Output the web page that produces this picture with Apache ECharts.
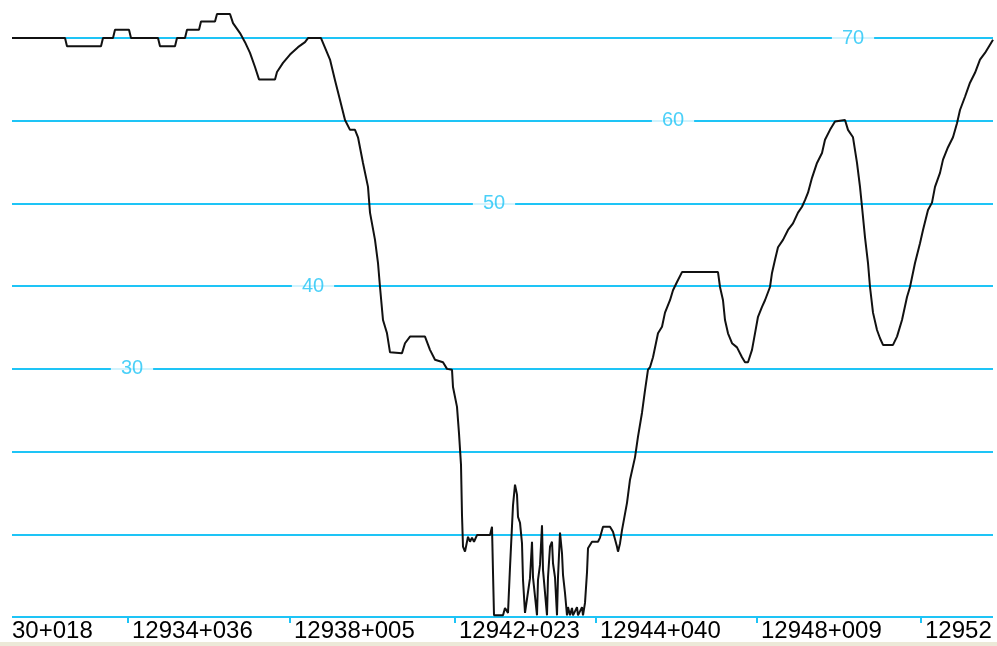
<!DOCTYPE html>
<html>
<head>
<meta charset="utf-8">
<script src="https://cdn.jsdelivr.net/npm/echarts@6/dist/echarts.min.js"></script>
<style>
html,body{margin:0;padding:0;background:#fff;}
#chart{width:997px;height:646px;}
</style>
</head>
<body>
<div id="chart"></div>
<script>
// sample positions along the route (index units) and measured values
const xs = [0,53,55,89,91,101,103,117,119,146,148,163,165,173,175,187,189,203,205,218,
  221,228,233,238,243,247,263,265,271,278,286,293,296,309,318,323,328,333,338,343,
  346,351,356,358,363,366,368,371,375,378,380,390,393,398,413,418,423,431,435,440,
  441,445,447,449,450,451,453,456,458,460,462,465,478,480,481,482,491,493,496,498,
  501,503,505,506,508,510,511,513,518,520,521,525,526,528,530,531,535,536,538,540,
  541,543,545,546,548,550,551,553,555,556,558,560,561,565,566,570,571,573,575,576,
  580,586,588,591,598,601,605,606,608,610,615,618,623,626,630,633,636,638,641,646,
  650,653,658,661,665,670,706,708,711,713,716,720,725,730,733,736,740,743,746,750,
  753,758,760,763,766,771,776,781,786,790,793,796,800,805,810,813,818,823,825,833,
  836,841,845,848,850,853,856,858,861,865,868,871,881,885,890,895,898,903,908,911,
  916,920,923,928,931,936,941,945,948,953,958,963,968,973,978,981];
const ys = [70,70,69,69,70,70,71,71,70,70,69,69,70,70,71,71,72,72,72.9,72.9,
  71.8,70.6,69.5,68.2,66.5,65,65,65.9,67,68,68.9,69.5,70,70,67.4,64.9,62.5,60.1,58.9,58.9,
  58,54.9,52,48.9,45.6,42.8,39.9,35.9,34.3,32,31.9,31.9,33.1,33.9,33.9,32.3,31.1,30.8,30,29.9,
  27.8,25.4,22.2,18.4,12.3,8.5,7.9,9.7,9.1,9.6,9.1,9.9,9.9,10.9,5.4,0.2,0.2,1.1,0.5,6,
  13.5,16,14.8,12.1,11.4,8.9,4.5,0.5,4.7,9.1,4.8,0.2,4.5,6.3,11.1,5.7,0.2,4.8,8.5,9.1,
  6.5,4.8,0.2,4.8,10.2,7.7,5.1,2.9,0.2,1.2,0.2,1.1,0.2,1.2,0.2,1.2,0.2,1.7,5.4,8.3,
  9.1,9.1,9.6,10.9,10.9,10.3,8.5,7.9,8.9,10.5,13.8,16.6,19.3,21.8,24.7,27.4,29.9,30.2,31.4,34.3,
  35.1,36.8,38.3,39.5,40.5,41.7,41.7,39.9,38.3,35.9,34.3,33.1,32.6,31.4,30.8,30.8,32.3,34.3,36.3,37.5,
  38.3,39.9,41.6,43.2,44.7,45.6,46.8,47.6,48.9,49.6,50.4,51.3,53.1,54.9,56.1,57.7,58.9,59.9,60.1,60.1,
  58.9,58,54.9,52,49.6,45.9,42.8,39.9,36.8,34.7,33.7,32.9,32.9,33.9,35.9,38.7,39.9,42.8,45.2,46.8,
  49.2,50.1,52,53.7,55.3,56.8,58,59.7,61.3,62.9,64.6,65.8,67.4,68.2,69.2,69.8];
// chainage tick labels and where they sit on the index axis
const tickPos = [116,278,443,584,745,909];
const tickLabels = ['30+018','12934+036','12938+005','12942+023','12944+040','12948+009','12952'];
const labelPos = [0,120,282,447,588,749,913];
// gridline value labels
const gridLabelValues = [30,40,50,60,70];
const gridLabelPos = [120,301,482,661,841];

const CYAN = '#1ec4f6';
const chart = echarts.init(document.getElementById('chart'), null, {renderer:'canvas'});
const lineData = xs.map((x,i)=>[x, ys[i]]);
const lblData = gridLabelValues.map((v,i)=>[gridLabelPos[i], v]);
chart.setOption({
  animation:false,
  backgroundColor:'#ffffff',
  grid:{left:12,right:4,top:0,bottom:29,containLabel:false},
  xAxis:{
    type:'value', min:0, max:981, offset:4,
    axisLine:{show:false},
    splitLine:{show:false},
    axisTick:{show:true, customValues:tickPos, length:6, lineStyle:{color:CYAN,width:2}},
    axisLabel:{show:true, customValues:labelPos, align:'left', margin:-2,
      fontFamily:'Liberation Sans, Arial, sans-serif', fontSize:24, color:'#000',
      formatter:function(v){ const i = labelPos.indexOf(v); return i>=0 ? tickLabels[i] : ''; }}
  },
  yAxis:{
    type:'value', min:0, max:74.6, interval:10,
    axisLine:{show:false}, axisTick:{show:false}, axisLabel:{show:false},
    splitLine:{show:true, showMaxLine:false, lineStyle:{color:CYAN,width:2}}
  },
  graphic:[{type:'rect', left:0, bottom:0, shape:{width:997,height:4}, style:{fill:'#ece9d8'}}],
  series:[
    {type:'scatter', data:lblData, symbolSize:0, z:2, silent:true,
     label:{show:true, position:'inside', formatter:function(p){return String(p.value[1]);},
       color:CYAN, fontSize:20, fontFamily:'Liberation Sans, Arial, sans-serif',
       backgroundColor:'#ffffff', padding:[2,10,2,10]}},
    {type:'line', data:lineData, showSymbol:false, z:3,
     lineStyle:{color:'#111111', width:2}}
  ]
});
</script>
</body>
</html>
